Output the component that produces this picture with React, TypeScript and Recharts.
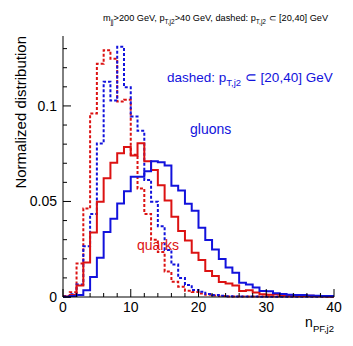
import React from "react";
import { Line, LineChart, XAxis, YAxis } from "recharts";

// bin low edges of n_PF,j2 (unit bins), last entry closes the histogram
const binEdges = [
  0, 1, 2, 3, 4, 5, 6, 7, 8, 9, 10, 11, 12, 13, 14, 15, 16, 17, 18, 19, 20,
  21, 22, 23, 24, 25, 26, 27, 28, 29, 30, 31, 32, 33, 34, 35, 36, 37, 38, 39, 40,
];

// pT,j2 > 40 GeV (solid)
const gluonsPt40 = [
  0.0001, 0.0005, 0.001, 0.0035, 0.0105, 0.0205, 0.034, 0.041, 0.0489, 0.0553,
  0.063, 0.063, 0.0658, 0.071, 0.0705, 0.0688, 0.0582, 0.0557, 0.0488, 0.0452,
  0.0363, 0.0298, 0.0249, 0.0199, 0.0155, 0.0127, 0.0075, 0.0066, 0.005, 0.0031,
  0.003, 0.0019, 0.0016, 0.0012, 0.001, 0.001, 0.0008, 0.0007, 0.0005, 0.0005,
];
const quarksPt40 = [
  0.0003, 0.001, 0.006, 0.018, 0.0337, 0.0499, 0.0621, 0.0703, 0.0752, 0.0785,
  0.074, 0.0805, 0.071, 0.0665, 0.0585, 0.0505, 0.042, 0.0345, 0.0296, 0.0232,
  0.0194, 0.0136, 0.011, 0.0078, 0.0071, 0.006, 0.0031, 0.0035, 0.0023, 0.0014,
  0.0012, 0.0014, 0.001, 0.0009, 0.0008, 0.0007, 0.0006, 0.0005, 0.0004, 0.0003,
];

// pT,j2 in [20,40] GeV (dashed)
const gluonsPt20 = [
  0.0002, 0.0015, 0.0066, 0.0265, 0.0435, 0.0804, 0.1127, 0.1028, 0.131, 0.1098,
  0.0945, 0.087, 0.0613, 0.0499, 0.037, 0.0246, 0.017, 0.01, 0.0063, 0.0037,
  0.0028, 0.0016, 0.001, 0.0006, 0.0004, 0.0003, 0.0002, 0.0002, 0.0002, 0.0001,
  0.0001, 0.0001, 0.0001, 0.0001, 0.0001, 0.0001, 0.0001, 0.0001, 0.0001, 0.0001,
];
const quarksPt20 = [
  0.0005, 0.0025, 0.0175, 0.0463, 0.0961, 0.1221, 0.1292, 0.1247, 0.1023, 0.1033,
  0.0745, 0.0568, 0.0435, 0.03, 0.0235, 0.0133, 0.008, 0.0054, 0.0033, 0.0026,
  0.0018, 0.0012, 0.0008, 0.0005, 0.0003, 0.0003, 0.0002, 0.0002, 0.0002, 0.0002,
  0.0002, 0.0002, 0.0002, 0.0002, 0.0002, 0.0002, 0.0002, 0.0002, 0.0002, 0.0002,
];

const xTicks = [0, 2, 4, 6, 8, 10, 12, 14, 16, 18, 20, 22, 24, 26, 28, 30, 32, 34, 36, 38, 40];
const xLabels = [0, 10, 20, 30, 40];
const yTicks = [0, 0.01, 0.02, 0.03, 0.04, 0.05, 0.06, 0.07, 0.08, 0.09, 0.1, 0.11, 0.12, 0.13];
const yLabels = ["0", "0.05", "0.1"];
const yMax = 0.1366;

const BLUE = "#1212dc";
const RED = "#dc1212";
const FONT = "'Liberation Sans', Arial, Helvetica, sans-serif";

const data = binEdges.map((x, i) => {
  const k = Math.min(i, gluonsPt40.length - 1);
  return {
    x,
    gluonsPt40: gluonsPt40[k],
    quarksPt40: quarksPt40[k],
    gluonsPt20: gluonsPt20[k],
    quarksPt20: quarksPt20[k],
  };
});

const isMajorX = (v: number) => xLabels.includes(v);
const yLabelFor = (v: number) => yLabels.find((l) => Math.abs(parseFloat(l) - v) < 1e-6);

function BottomTick({ x, y, payload }: any) {
  const v = payload.value;
  const major = isMajorX(v);
  return (
    <g>
      <line x1={x} x2={x} y1={y} y2={y - (major ? 8 : 4)} stroke="#000" />
      {major && (
        <text x={x} y={y + 15} textAnchor="middle" fontSize={14} fontFamily={FONT} fill="#000">
          {v}
        </text>
      )}
    </g>
  );
}

function TopTick({ x, y, payload }: any) {
  const major = isMajorX(payload.value);
  return <line x1={x} x2={x} y1={y} y2={y + (major ? 8 : 4)} stroke="#000" />;
}

function LeftTick({ x, y, payload }: any) {
  const label = yLabelFor(payload.value);
  return (
    <g>
      <line x1={x} x2={x + (label ? 8 : 4)} y1={y} y2={y} stroke="#000" />
      {label && (
        <text x={x - 6} y={y + 5} textAnchor="end" fontSize={14} fontFamily={FONT} fill="#000">
          {label}
        </text>
      )}
    </g>
  );
}

function RightTick({ x, y, payload }: any) {
  const label = yLabelFor(payload.value);
  return <line x1={x} x2={x - (label ? 8 : 4)} y1={y} y2={y} stroke="#000" />;
}

export default function App() {
  return (
    <div style={{ position: "absolute", left: 0, top: 0, width: 353, height: 346, background: "#fff" }}>
      <LineChart width={353} height={346} data={data} margin={{ top: 36, right: 19, left: 8, bottom: 19 }}>
        <XAxis
          dataKey="x"
          type="number"
          domain={[0, 40]}
          ticks={xTicks}
          interval={0}
          height={30}
          tickSize={0}
          tickMargin={0}
          tickLine={false}
          tick={<BottomTick />}
          axisLine={{ stroke: "#000" }}
        />
        <XAxis
          xAxisId="top"
          orientation="top"
          type="number"
          domain={[0, 40]}
          ticks={xTicks}
          interval={0}
          height={0}
          tickSize={0}
          tickMargin={0}
          tickLine={false}
          tick={<TopTick />}
          axisLine={{ stroke: "#000" }}
        />
        <YAxis
          type="number"
          domain={[0, yMax]}
          ticks={yTicks}
          interval={0}
          width={55}
          tickSize={0}
          tickMargin={0}
          tickLine={false}
          tick={<LeftTick />}
          axisLine={{ stroke: "#000" }}
        />
        <YAxis
          yAxisId="right"
          orientation="right"
          type="number"
          domain={[0, yMax]}
          ticks={yTicks}
          interval={0}
          width={0}
          tickSize={0}
          tickMargin={0}
          tickLine={false}
          tick={<RightTick />}
          axisLine={{ stroke: "#000" }}
        />
        <Line type="stepAfter" dataKey="quarksPt20" stroke={RED} strokeWidth={2} strokeDasharray="3 2" dot={false} isAnimationActive={false} />
        <Line type="stepAfter" dataKey="gluonsPt20" stroke={BLUE} strokeWidth={2} strokeDasharray="3 2" dot={false} isAnimationActive={false} />
        <Line type="stepAfter" dataKey="quarksPt40" stroke={RED} strokeWidth={2} dot={false} isAnimationActive={false} />
        <Line type="stepAfter" dataKey="gluonsPt40" stroke={BLUE} strokeWidth={2} dot={false} isAnimationActive={false} />
      </LineChart>
      <svg
        width={353}
        height={346}
        style={{ position: "absolute", left: 0, top: 0, pointerEvents: "none" }}
        fontFamily={FONT}
      >
        <text x={103} y={21} fontSize={9.2} fill="#000">
          m<tspan dy={3} fontSize={6.5}>jj</tspan>
          <tspan dy={-3}>{">200 GeV, p"}</tspan>
          <tspan dy={3} fontSize={6.5}>T,j2</tspan>
          <tspan dy={-3}>{">40 GeV, dashed: p"}</tspan>
          <tspan dy={3} fontSize={6.5}>T,j2</tspan>
          <tspan dy={-3}>{" \u2282 [20,40] GeV"}</tspan>
        </text>
        <text x={167} y={82} fontSize={13.5} fill={BLUE}>
          dashed: p<tspan dy={4} fontSize={9.5}>T,j2</tspan>
          <tspan dy={-4}>{" \u2282 [20,40] GeV"}</tspan>
        </text>
        <text x={190} y={134} fontSize={14} fill={BLUE}>gluons</text>
        <text x={137} y={250} fontSize={14} fill={RED}>quarks</text>
        <text transform="translate(26,36) rotate(-90)" textAnchor="end" fontSize={15} fill="#000">
          Normalized distribution
        </text>
        <text x={334} y={327} textAnchor="end" fontSize={14} fill="#000">
          n<tspan dy={5} fontSize={9.5}>PF,j2</tspan>
        </text>
      </svg>
    </div>
  );
}
